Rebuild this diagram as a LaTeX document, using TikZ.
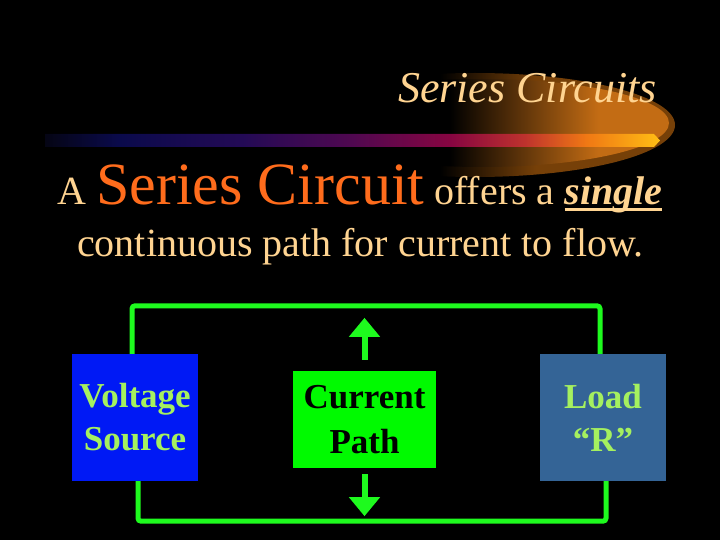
\documentclass[tikz,border=0pt]{standalone}
\usepackage{fontspec}
\setmainfont{Liberation Serif}
\usetikzlibrary{arrows.meta}
\definecolor{peach}{RGB}{255,212,145}
\definecolor{orangetxt}{RGB}{255,108,28}
\definecolor{wiregreen}{RGB}{30,250,30}
\definecolor{vsblue}{RGB}{0,25,245}
\definecolor{loadblue}{RGB}{52,100,150}
\definecolor{lbltxt}{RGB}{165,240,95}
\definecolor{cpgreen}{RGB}{0,250,0}
\definecolor{glowA}{RGB}{118,64,8}
\definecolor{glowB}{RGB}{195,108,20}
\definecolor{bz}{RGB}{5,5,20}
\definecolor{ba}{RGB}{10,10,75}
\definecolor{bb}{RGB}{35,10,85}
\definecolor{bc}{RGB}{80,8,80}
\definecolor{bd}{RGB}{135,5,65}
\definecolor{be}{RGB}{190,50,45}
\definecolor{bf}{RGB}{240,120,20}
\definecolor{bg}{RGB}{255,190,20}
\pgfdeclarehorizontalshading{barshade}{100bp}{color(0bp)=(bz); color(25bp)=(bz); color(31bp)=(ba); color(41bp)=(bb); color(50bp)=(bc); color(58bp)=(bd); color(64bp)=(be); color(69bp)=(bf); color(75bp)=(bg); color(100bp)=(bg)}
\pgfdeclarehorizontalshading{glowout}{100bp}{color(0bp)=(black); color(25bp)=(black); color(45bp)=(glowA); color(100bp)=(glowA)}
\pgfdeclarehorizontalshading{glowin}{100bp}{color(0bp)=(black); color(27bp)=(black); color(58bp)=(glowB); color(100bp)=(glowB)}
\newsavebox\singlebox
\begin{document}
\begin{tikzpicture}[x=1pt,y=-1pt,
  box/.style={draw=none, inner sep=0pt, align=center, font=\fontsize{35}{43}\selectfont\bfseries},
  wire/.style={draw=wiregreen, line width=5pt, rounded corners=3pt},
  flow/.style={draw=wiregreen, line width=6pt, -{Triangle[width=30pt,length=19pt]}}]
\useasboundingbox (0,0) rectangle (720,540);
\fill[black] (0,0) rectangle (720,540);
% glow
\begin{scope}
  \clip (475,125) ellipse [x radius=200, y radius=52];
  \shade[shading=glowout] (440,60) rectangle (680,190);
\end{scope}
\begin{scope}
  \clip (482,123) ellipse [x radius=187, y radius=44];
  \shade[shading=glowin] (440,60) rectangle (680,190);
\end{scope}
% bar
\shade[shading=barshade] (45,134) -- (654,134) -- (660,140.5) -- (654,147) -- (45,147) -- cycle;
% texts
\node[anchor=base east, inner sep=0pt, text=peach, font=\fontsize{44}{50}\selectfont\itshape] (title) at (657,103) {Series Circuits};
\node[anchor=base west, inner sep=0pt, text=peach, font=\fontsize{40}{48}\selectfont] (line1) at (57,205)
  {A {\fontsize{60}{60}\selectfont\color{orangetxt}Series Circuit} offers a \sbox\singlebox{\textbf{\textit{single}}}\usebox\singlebox\llap{\rule[-6pt]{\wd\singlebox}{2.5pt}}};
\node[anchor=base west, inner sep=0pt, text=peach, font=\fontsize{40}{48}\selectfont] (line2) at (77,256)
  {continuous path for current to flow.};
% boxes
\node[box, fill=vsblue, text=lbltxt, minimum width=126pt, minimum height=127pt] (vs) at (135,417.5) {Voltage\\Source};
\node[box, fill=cpgreen, text=black, minimum width=143pt, minimum height=97pt, font=\fontsize{35}{45}\selectfont\bfseries] (cp) at (364.5,419.5) {Current\\Path};
\node[box, fill=loadblue, text=lbltxt, minimum width=126pt, minimum height=127pt] (load) at (603,417.5) {Load\\“R”};
% wires
\draw[wire] ([xshift=-3pt]vs.north) -- ++(0,-48) -| ([xshift=-3pt]load.north);
\draw[wire] ([xshift=3pt]vs.south) -- ++(0,40) -| ([xshift=3pt]load.south);
% arrows
\draw[flow] ([yshift=11pt]cp.north) -- ([yshift=53pt]cp.north);
\draw[flow] ([yshift=-6pt]cp.south) -- ([yshift=-48pt]cp.south);
\end{tikzpicture}
\end{document}
